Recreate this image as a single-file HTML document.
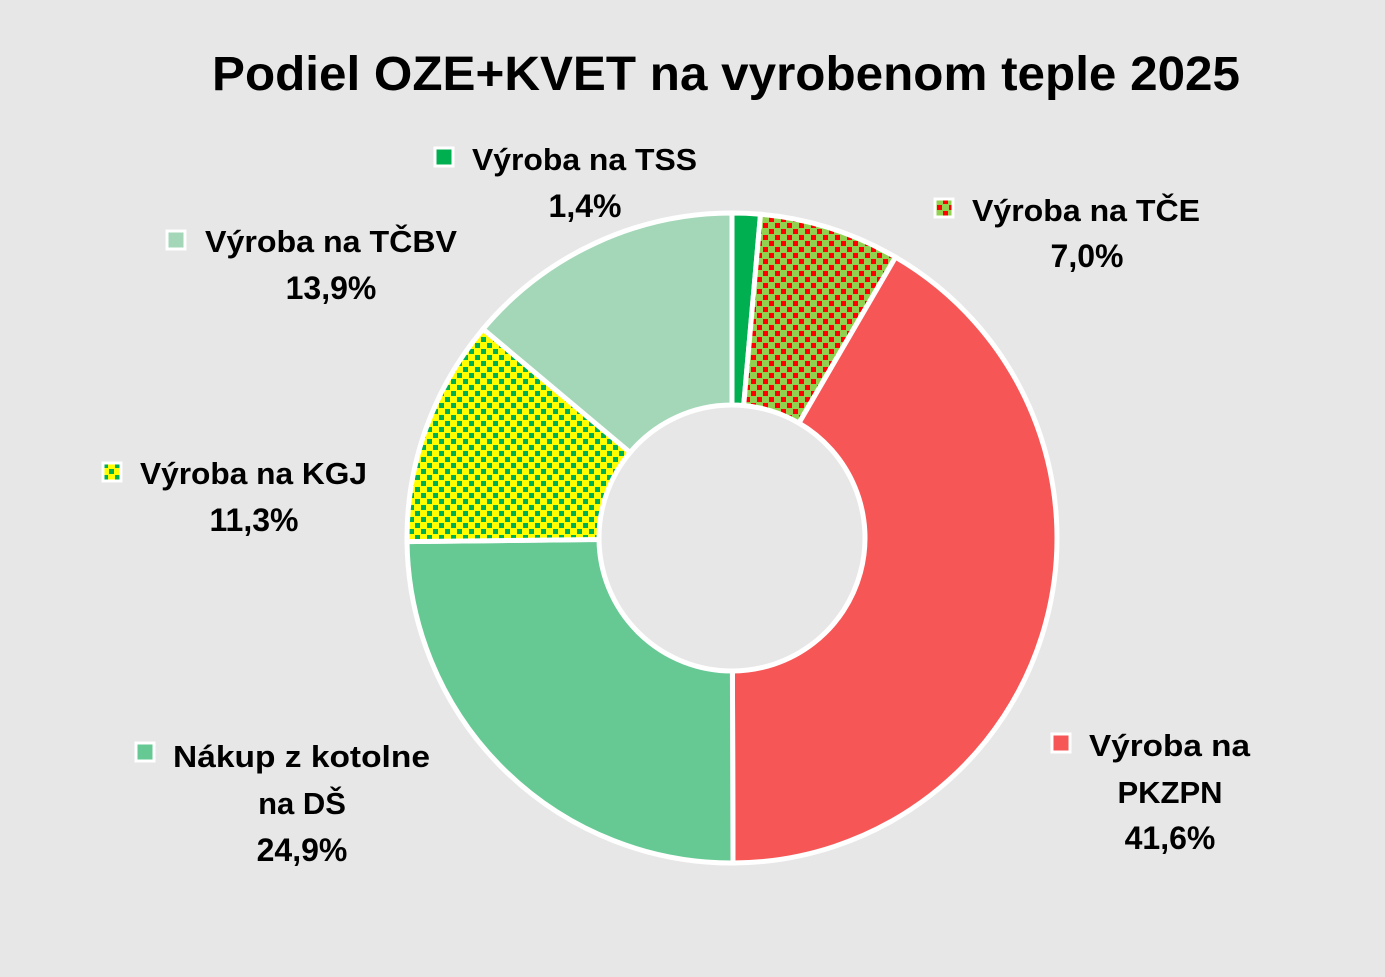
<!DOCTYPE html>
<html><head><meta charset="utf-8"><style>
html,body{margin:0;padding:0;background:#e7e7e7;}
svg{display:block;font-family:"Liberation Sans",Arial,sans-serif;font-weight:bold;}
</style></head><body>
<svg id="chart" width="1385" height="977" viewBox="0 0 1385 977">
<defs>
<pattern id="pTCE" width="12" height="12" patternUnits="userSpaceOnUse">
<rect width="12" height="12" fill="#92D050"/><rect x="1" y="1" width="5" height="5" fill="#FF0000"/><rect x="7" y="7" width="5" height="5" fill="#FF0000"/>
</pattern>
<pattern id="pKGJ" width="12" height="12" patternUnits="userSpaceOnUse">
<rect width="12" height="12" fill="#FFFF00"/><rect x="1" y="1" width="5" height="5" fill="#00B050"/><rect x="7" y="7" width="5" height="5" fill="#00B050"/>
</pattern>
</defs>
<rect width="1385" height="977" fill="#e7e7e7"/>
<text x="212" y="90" textLength="1028" lengthAdjust="spacingAndGlyphs" font-size="48" fill="#000">Podiel OZE+KVET na vyrobenom teple 2025</text>
<g id="slices"></g>
<g id="labels"></g>
</svg>
<script>
const categories = ["Výroba na TSS","Výroba na TČE","Výroba na PKZPN","Nákup z kotolne na DŠ","Výroba na KGJ","Výroba na TČBV"];
const values = [1.4, 7.0, 41.6, 24.9, 11.3, 13.9];
const valueLabels = ["1,4%","7,0%","41,6%","24,9%","11,3%","13,9%"];
const fills = ["#00B050","url(#pTCE)","#F75656","#66C994","url(#pKGJ)","#A3D7B8"];
const NS="http://www.w3.org/2000/svg";
const cx=732, cy=538, R=325, r=133;
const total=values.reduce((a,b)=>a+b,0);
function pt(rad,a){return [cx+rad*Math.sin(a), cy-rad*Math.cos(a)];}
const gs=document.getElementById('slices');
let acc=0;
values.forEach((v,i)=>{
  const a0=acc/total*2*Math.PI; acc+=v; const a1=acc/total*2*Math.PI;
  const large=(a1-a0)>Math.PI?1:0;
  const [x0,y0]=pt(R,a0),[x1,y1]=pt(R,a1),[x2,y2]=pt(r,a1),[x3,y3]=pt(r,a0);
  const p=document.createElementNS(NS,'path');
  p.setAttribute('d',`M${x0},${y0}A${R},${R} 0 ${large} 1 ${x1},${y1}L${x2},${y2}A${r},${r} 0 ${large} 0 ${x3},${y3}Z`);
  p.setAttribute('fill',fills[i]);
  p.setAttribute('stroke','#fff');
  p.setAttribute('stroke-width','5');
  
  
  gs.appendChild(p);
});
const layout=[
  {mx:435,my:148,tx:472,ty:170,tw:225,lines:["Výroba na TSS"],cxl:585,rest:[],vy:217},
  {mx:935,my:199,tx:972,ty:221,tw:228,lines:["Výroba na TČE"],cxl:1087,rest:[],vy:267},
  {mx:1052,my:734,tx:1089,ty:756,tw:161,lines:["Výroba na"],cxl:1170,rest:[["PKZPN",803]],vy:849},
  {mx:136,my:743,tx:173,ty:767,tw:257,lines:["Nákup z kotolne"],cxl:302,rest:[["na DŠ",814]],vy:861},
  {mx:103,my:463,tx:140,ty:484,tw:227,lines:["Výroba na KGJ"],cxl:254,rest:[],vy:531},
  {mx:167,my:231,tx:205,ty:252,tw:252,lines:["Výroba na TČBV"],cxl:331,rest:[],vy:299}
];
const gl=document.getElementById('labels');
layout.forEach((L,i)=>{
  const m=document.createElementNS(NS,'rect');
  m.setAttribute('x',L.mx);m.setAttribute('y',L.my);m.setAttribute('width',18);m.setAttribute('height',18);
  m.setAttribute('fill',fills[i]);m.setAttribute('stroke','#fff');m.setAttribute('stroke-width','3');
  
  
  gl.appendChild(m);
  const t=document.createElementNS(NS,'text');
  t.setAttribute('x',L.tx);t.setAttribute('y',L.ty);t.setAttribute('font-size','31');
  t.setAttribute('textLength',L.tw);t.setAttribute('lengthAdjust','spacingAndGlyphs');
  t.textContent=L.lines[0];
  
  
  gl.appendChild(t);
  L.rest.forEach(([s,y])=>{
    const t2=document.createElementNS(NS,'text');
    t2.setAttribute('x',L.cxl);t2.setAttribute('y',y);t2.setAttribute('font-size','31');t2.setAttribute('text-anchor','middle');
    t2.textContent=s;
    
    
    gl.appendChild(t2);
  });
  const tv=document.createElementNS(NS,'text');
  tv.setAttribute('x',L.cxl);tv.setAttribute('y',L.vy);tv.setAttribute('font-size','32');tv.setAttribute('text-anchor','middle');
  tv.textContent=valueLabels[i];
  
  
  gl.appendChild(tv);
});
</script>
</body></html>
